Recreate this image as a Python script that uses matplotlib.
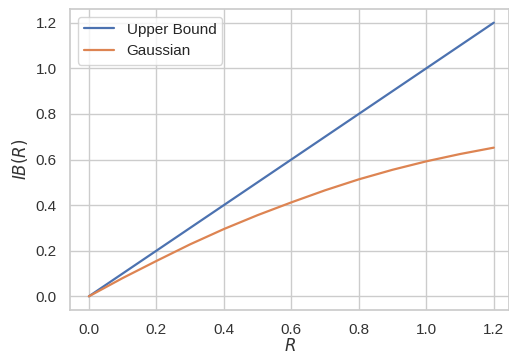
import matplotlib
matplotlib.use("Agg")
import matplotlib.pyplot as plt
import seaborn as sns

# values
rate = [0.0, 0.1, 0.2, 0.3, 0.4, 0.5, 0.6, 0.7, 0.8, 0.9, 1.0, 1.1, 1.2]
upperBound = [0.0, 0.1, 0.2, 0.3, 0.4, 0.5, 0.6, 0.7, 0.8, 0.9, 1.0, 1.1, 1.2]
gaussian = [0.0, 0.08, 0.155, 0.228, 0.295, 0.356, 0.412, 0.465, 0.513, 0.555, 0.592, 0.624, 0.652]

sns.set_theme(style="whitegrid")
plt.rcParams['font.family'] = ['Arial', 'Liberation Sans', 'DejaVu Sans']

fig = plt.figure(figsize=(5.09, 3.54), dpi=100)
ax = fig.add_axes([70 / 509, 1 - 310 / 354, 1 - 70 / 509, 301 / 354])

ax.plot(rate, upperBound, label="Upper Bound", color="#4c72b0", lw=1.6)
ax.plot(rate, gaussian, label="Gaussian", color="#dd8452", lw=1.6)

ax.set_xlim(-0.056, 1.245)
ax.set_ylim(-0.06, 1.26)
ax.set_xticks([0.0, 0.2, 0.4, 0.6, 0.8, 1.0, 1.2])
ax.set_yticks([0.0, 0.2, 0.4, 0.6, 0.8, 1.0, 1.2])
ax.tick_params(labelsize=11, colors="#333333")
ax.set_xlabel("$R$", fontsize=12, color="#333333", labelpad=0)
ax.set_ylabel("$IB(R)$", fontsize=12, color="#333333")
ax.legend(loc="upper left", fontsize=11)

fig.savefig("out.png", dpi=100)
